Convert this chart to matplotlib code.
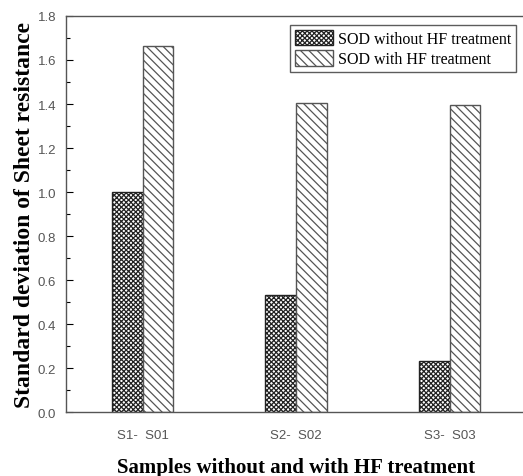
import numpy as np
import matplotlib.pyplot as plt
from matplotlib.ticker import MultipleLocator

# sheet-resistance spread per sample pair
groups = ["S1-  S01", "S2-  S02", "S3-  S03"]
without_hf = [1.00, 0.53, 0.23]
with_hf = [1.665, 1.405, 1.395]

plt.rcParams["hatch.linewidth"] = 0.9

fig = plt.figure(figsize=(5.23, 4.77), dpi=100)
ax = fig.add_axes([0.1262, 0.134, 0.88, 0.8304])

x = np.arange(1, len(groups) + 1)
w = 0.2
ax.bar(x - w / 2, without_hf, width=w, color="white", edgecolor="#222222",
       hatch="xxxxxxx", linewidth=1.0, label="SOD without HF treatment")
ax.bar(x + w / 2, with_hf, width=w, color="white", edgecolor="#555555",
       hatch="\\\\\\\\", linewidth=1.0, label="SOD with HF treatment")

ax.set_xlim(0.5, 3.5)
ax.set_ylim(0, 1.8)
ax.yaxis.set_minor_locator(MultipleLocator(0.1))
yt = np.arange(0, 1.81, 0.2)
ax.set_yticks(yt)
ax.set_yticklabels([f"{v:.1f}" for v in yt])
ax.set_xticks(x)
ax.set_xticklabels(groups)

ax.tick_params(axis="y", which="major", direction="in", length=5, width=0.8,
               labelsize=9.5, labelcolor="#555555", pad=7)
ax.tick_params(axis="y", which="minor", direction="in", length=3, width=0.8)
ax.tick_params(axis="x", length=0, labelsize=9.5, labelcolor="#555555", pad=12)
for lbl in ax.get_xticklabels() + ax.get_yticklabels():
    lbl.set_fontfamily("Liberation Sans")

ax.spines["right"].set_visible(False)
for side in ("left", "top", "bottom"):
    ax.spines[side].set_color("#555555")
    ax.spines[side].set_linewidth(1.0)

ax.set_ylabel("Standard deviation of Sheet resistance", fontsize=17,
              fontweight="bold", fontfamily="Liberation Serif")
ax.set_xlabel("Samples without and with HF treatment", fontsize=15,
              fontweight="bold", fontfamily="Liberation Serif", labelpad=12)
ax.yaxis.set_label_coords(-0.068, 0.50)

leg = ax.legend(loc="upper right", bbox_to_anchor=(0.985, 0.985),
                prop={"family": "Liberation Serif", "size": 11.5},
                frameon=True, fancybox=False, edgecolor="#333333",
                handlelength=2.4, handleheight=1.1, handletextpad=0.3,
                borderpad=0.3, labelspacing=0.2, borderaxespad=0.2)
leg.get_frame().set_linewidth(1.0)

fig.savefig("out.png", dpi=100)
